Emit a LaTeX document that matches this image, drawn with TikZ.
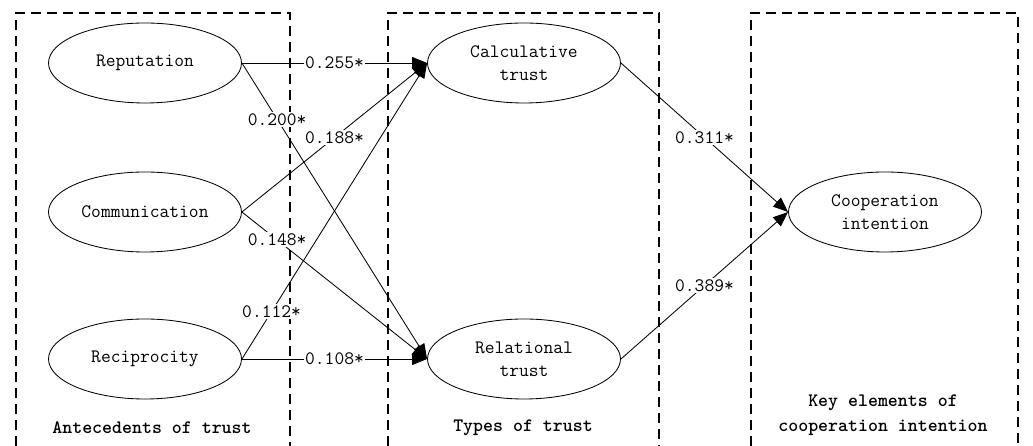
\documentclass[tikz,border=0pt]{standalone}
\usepackage{tikz}
\usetikzlibrary{shapes.geometric, arrows.meta}

\tikzset{
  factor/.style={draw, ellipse, line width=0.6pt, minimum width=4.825cm, minimum height=2cm,
    inner sep=0pt, align=center, font=\ttfamily\fontsize{13.5}{16.3}\selectfont},
  link/.style={-{Triangle[length=0.375cm, width=0.3cm]}, line width=0.6pt},
  coef/.style={fill=white, inner sep=1pt, font=\ttfamily\fontsize{13.5}{16.3}\selectfont},
  group/.style={dash pattern=on 0.25cm off 0.15cm, line width=1pt},
  heading/.style={align=center, font=\ttfamily\bfseries\fontsize{13.5}{17.7}\selectfont}
}

\begin{document}
\begin{tikzpicture}
        \useasboundingbox (0,0) rectangle (25.825,11.15);

        % Dashed group boxes
        \draw[group] (0.4,0) |- (7.25,10.825) -- (7.25,0);
        \draw[group] (9.7,0) |- (16.475,10.825) -- (16.475,0);
        \draw[group] (18.775,0) |- (25.45,10.825) -- (25.45,0);

        % Antecedents
        \node[factor] (rep) at (3.625,9.575) {Reputation};
        \node[factor] (com) at (3.625,5.85) {Communication};
        \node[factor] (rec) at (3.625,2.175) {Reciprocity};

        % Types of trust
        \node[factor] (calc) at (13.1,9.575) {Calculative\\trust};
        \node[factor] (rel) at (13.1,2.175) {Relational\\trust};

        % Outcome
        \node[factor] (coop) at (22.125,5.85) {Cooperation\\intention};

        % Group headings
        \node[heading] (antec) at (3.8,0.45) {Antecedents of trust};
        \node[heading] (types) at (13.075,0.45) {Types of trust};
        \node[heading] (key) at (22.075,0.7625) {Key elements of\\cooperation intention};

        % Paths with coefficients
        \draw[link] (rep.east) -- node[coef] {0.255*} (calc.west);
        \draw[link] (rep.east) -- node[coef, pos=0.19] {0.200*} (rel.west);
        \draw[link] (com.east) -- node[coef, pos=0.5] {0.188*} (calc.west);
        \draw[link] (com.east) -- node[coef, pos=0.19] {0.148*} (rel.west);
        \draw[link] (rec.east) -- node[coef, pos=0.16] {0.112*} (calc.west);
        \draw[link] (rec.east) -- node[coef] {0.108*} (rel.west);
        \draw[link] (calc.east) -- node[coef] {0.311*} (coop.west);
        \draw[link] (rel.east) -- node[coef] {0.389*} (coop.west);
\end{tikzpicture}
\end{document}
